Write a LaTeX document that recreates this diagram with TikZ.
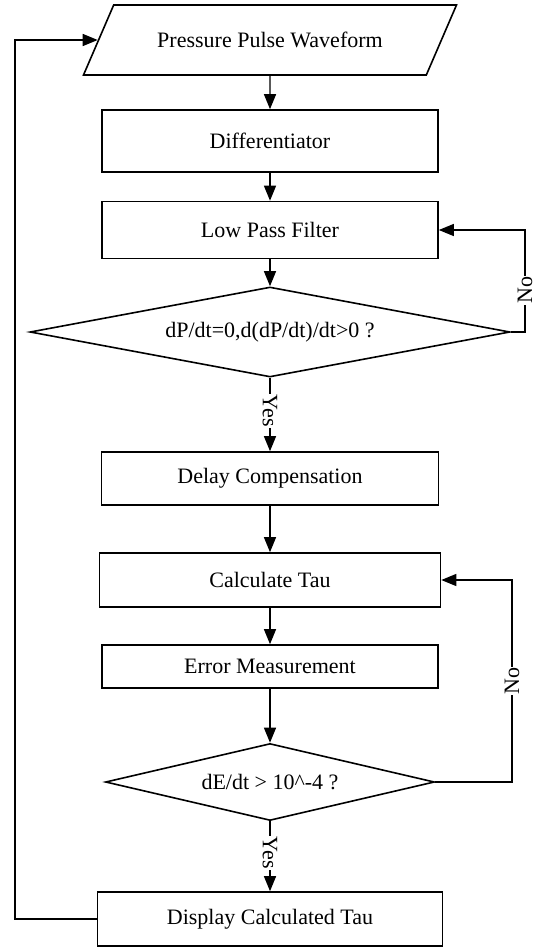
\documentclass[tikz,border=0pt]{standalone}
\usepackage{fontspec}
\setmainfont{Liberation Serif}
\usetikzlibrary{arrows.meta,shapes.geometric}

\begin{document}
\begin{tikzpicture}[x=0.5pt,y=-0.5pt,>={Triangle[length=7.5pt,width=6pt]},
  font=\fontsize{11}{13}\selectfont,
  procbox/.style={draw,line width=0.8pt,inner sep=0pt},
  decision/.style={draw,diamond,line width=0.8pt,inner sep=0pt,aspect=5},
  flow/.style={->,line width=0.65pt},
  lbl/.style={fill=white,inner sep=0.5pt}]
\useasboundingbox (0,0) rectangle (534,948);
% input
\node[draw,trapezium,trapezium left angle=44,trapezium right angle=136,
  trapezium stretches body,line width=0.8pt,
  minimum width=186.5pt,minimum height=35pt] (wave) at (270,40)
  {Pressure Pulse Waveform};
% main column
\node[procbox,minimum width=168pt,minimum height=31pt] (diff) at (270,141) {Differentiator};
\node[procbox,minimum width=168pt,minimum height=28.5pt] (lpf) at (270,230) {Low Pass Filter};
\node[decision,minimum width=240pt,minimum height=45pt] (chk1) at (270,332) {dP/dt=0,d(dP/dt)/dt>0 ?};
\node[procbox,minimum width=168.5pt,minimum height=26.5pt] (delay) at (270,478.5) {Delay Compensation};
\node[procbox,minimum width=170.5pt,minimum height=27pt] (calc) at (270,580) {Calculate Tau};
\node[procbox,minimum width=168pt,minimum height=21.5pt] (err) at (270,666.5) {Error Measurement};
\node[decision,minimum width=164.5pt,minimum height=38.5pt] (chk2) at (270,782) {dE/dt > 10\textasciicircum-4 ?};
\node[procbox,minimum width=172.5pt,minimum height=27pt] (disp) at (270,919) {Display Calculated Tau};
% loop lines
\coordinate (rgt1) at (525,0);
\coordinate (rgt2) at (512,0);
\coordinate (lft) at (15,0);
% arrows down
\draw[flow] (wave.south) -- (diff.north);
\draw[flow] (diff.south) -- (lpf.north);
\draw[flow] (lpf.south) -- (chk1.north);
\draw[flow] (chk1.south) -- node[lbl,rotate=-90,pos=0.45]{Yes} (delay.north);
\draw[flow] (delay.south) -- (calc.north);
\draw[flow] (calc.south) -- (err.north);
\draw[flow] (err.south) -- (chk2.north);
\draw[flow] (chk2.south) -- node[lbl,rotate=-90,pos=0.45]{Yes} (disp.north);
% feedback
\draw[flow] (chk1.east) -- (chk1.east -| rgt1)
  -- node[lbl,rotate=90,pos=0.41]{No} (lpf.east -| rgt1) -- (lpf.east);
\draw[flow] (chk2.east) -- (chk2.east -| rgt2)
  -- node[lbl,rotate=90]{No} (calc.east -| rgt2) -- (calc.east);
\draw[flow] (disp.west) -- (disp.west -| lft) -- (wave.west -| lft) -- (wave.west);
\end{tikzpicture}
\end{document}
